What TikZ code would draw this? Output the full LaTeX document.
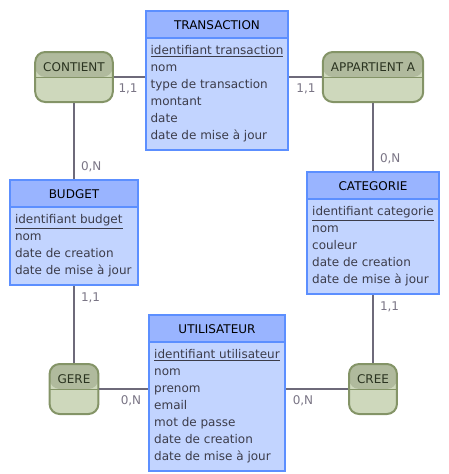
\documentclass[tikz,border=0pt]{standalone}
\usepackage{fontspec}
\setmainfont{DejaVu Sans}
\usepackage{xcolor}
\usepackage{tikz}
\usetikzlibrary{shapes,arrows}
\definecolor{entityhead}{HTML}{99B4FF}
\definecolor{entitybody}{HTML}{C2D4FF}
\definecolor{entityline}{HTML}{5C8FFF}
\definecolor{assochead}{HTML}{B0BA9D}
\definecolor{assocbody}{HTML}{CED8BC}
\definecolor{assocline}{HTML}{849467}
\definecolor{linkcol}{HTML}{6E6A7A}
\definecolor{cardcol}{HTML}{7A7585}
\definecolor{bodytext}{HTML}{3C3C4A}
\definecolor{assoctext}{HTML}{2A3320}
\newcommand{\hstrut}{\rule[-4pt]{0pt}{17pt}}
\tikzstyle{entity} = [rectangle split, rectangle split parts=2, anchor=north, draw=entityline, line width=2pt, rectangle split part fill={entityhead,entitybody}, rectangle split part align={center,left}, inner xsep=5pt, inner ysep=4pt, text=bodytext, font=\fontsize{12}{17}\selectfont]
\tikzstyle{assoc} = [rectangle, rounded corners=10pt, draw=assocline, line width=2pt, fill=assocbody, inner xsep=8pt, inner ysep=0pt, text height=19pt, text depth=31pt, text=assoctext, font=\fontsize{12}{17}\selectfont, path picture={\fill[assochead] (path picture bounding box.north west) rectangle ([yshift=-25pt]path picture bounding box.north east); \draw[assocline, line width=1pt] ([yshift=-25pt]path picture bounding box.north west) -- ([yshift=-25pt]path picture bounding box.north east);}]
\tikzstyle{link} = [draw, line width=2pt, color=linkcol]
\tikzstyle{card} = [inner sep=6pt, text=cardcol, font=\fontsize{12}{14}\selectfont]

\begin{document}
\begin{tikzpicture}[x=1pt,y=-1pt]
\useasboundingbox (0,0) rectangle (448,474);
% entites
\node [entity] (transaction) at (217,10) {\hstrut\color{black}TRANSACTION
  \nodepart{two}\begin{tabular}{@{}l@{}}\underline{identifiant transaction}\\ nom\\ type de transaction\\ montant\\ date\\ date de mise à jour\end{tabular}};
\node [entity, minimum width=128pt] (budget) at (74,179) {\hstrut\color{black}BUDGET
  \nodepart{two}\begin{tabular}{@{}l@{}}\underline{identifiant budget}\\ nom\\ date de creation\\ date de mise à jour\end{tabular}};
\node [entity] (categorie) at (373,171) {\hstrut\color{black}CATEGORIE
  \nodepart{two}\begin{tabular}{@{}l@{}}\underline{identifiant categorie}\\ nom\\ couleur\\ date de creation\\ date de mise à jour\end{tabular}};
\node [entity] (utilisateur) at (217,314) {\hstrut\color{black}UTILISATEUR
  \nodepart{two}\begin{tabular}{@{}l@{}}\underline{identifiant utilisateur}\\ nom\\ prenom\\ email\\ mot de passe\\ date de creation\\ date de mise à jour\end{tabular}};
% associations
\node [assoc] (contient) at (74,77) {CONTIENT};
\node [assoc] (appartient) at (373,77) {APPARTIENT A};
\node [assoc] (gere) at (74,389) {GERE};
\node [assoc] (cree) at (373,389) {CREE};
% liens
\path [link] (contient.east) -- (contient.east -| transaction.west) node[card, below left, pos=1] {1,1};
\path [link] (appartient.west) -- (appartient.west -| transaction.east) node[card, below right, pos=1] {1,1};
\path [link] (contient.south) -- (budget.north) node[card, above right, pos=1] {0,N};
\path [link] (appartient.south) -- (categorie.north) node[card, above right, pos=1] {0,N};
\path [link] (gere.north) -- (budget.south) node[card, below right, pos=1] {1,1};
\path [link] (cree.north) -- (categorie.south) node[card, below right, pos=1] {1,1};
\path [link] (gere.east) -- (gere.east -| utilisateur.west) node[card, below left, pos=1] {0,N};
\path [link] (cree.west) -- (cree.west -| utilisateur.east) node[card, below right, pos=1] {0,N};
\end{tikzpicture}
\end{document}
